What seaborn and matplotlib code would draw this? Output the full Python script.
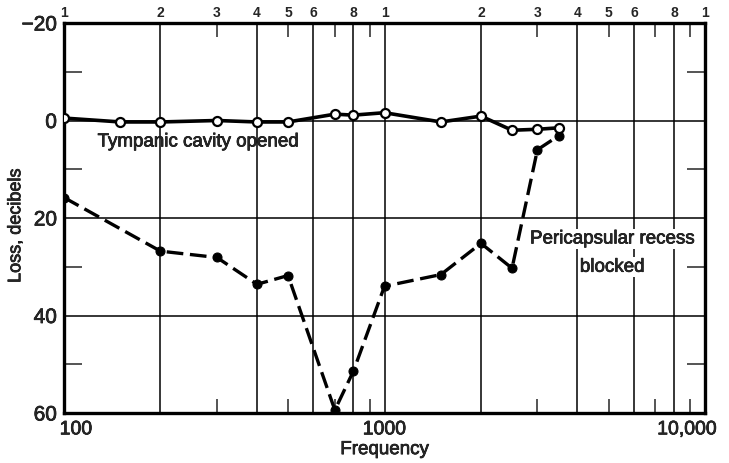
import numpy as np
import pandas as pd
import matplotlib
matplotlib.use("Agg")
import matplotlib.pyplot as plt
import matplotlib.transforms as mtrans
import matplotlib.patheffects as pe
import seaborn as sns
from matplotlib.ticker import FixedLocator, NullFormatter

# tympanic cavity opened (solid, open circles)
freqOpen = [100, 150, 200, 300, 400, 500, 700, 800, 1000, 1500, 2000, 2500, 3000, 3500]
lossOpen = [-0.5, 0.3, 0.3, 0.0, 0.3, 0.3, -1.3, -1.1, -1.6, 0.3, -0.9, 2.0, 1.8, 1.5]
# pericapsular recess blocked (dashed, filled circles)
freqBlock = [100, 200, 300, 400, 500, 700, 800, 1000, 1500, 2000, 2500, 3000, 3500]
lossBlock = [15.8, 26.8, 28.1, 33.6, 31.8, 59.4, 51.4, 34.0, 31.6, 25.2, 30.3, 6.0, 3.1]

gridFreq = [200, 400, 600, 800, 1000, 2000, 4000, 6000, 8000]
shortFreq = [300, 500, 700, 900, 3000, 5000, 7000, 9000]
topFreq = [100, 200, 300, 400, 500, 600, 800, 1000, 2000, 3000, 4000, 5000, 6000, 8000, 10000]
topLabels = ["1", "2", "3", "4", "5", "6", "8", "1", "2", "3", "4", "5", "6", "8", "1"]
botFreq = [100, 1000, 10000]
botLabels = ["100", "1000", "10,000"]
yTicks = [-20, 0, 20, 40, 60]
yLabels = ["\u221220", "0", "20", "40", "60"]
yShort = [-10, 10, 30, 50]
yGrid = [0, 20, 40]

sns.set_style("white")
plt.rcParams['font.family'] = ['Liberation Sans', 'DejaVu Sans']
heavy = [pe.withStroke(linewidth=0.5, foreground="black")]

dfO = pd.DataFrame({"freq": freqOpen, "loss": lossOpen})
dfB = pd.DataFrame({"freq": freqBlock, "loss": lossBlock})

fig = plt.figure(figsize=(7.29, 4.64), dpi=100)
ax = fig.add_axes([64/729, 50/464, 641/729, 390/464])

for f in gridFreq:
    ax.axvline(f, color="black", lw=1.1, zorder=1)
for v in yGrid:
    ax.axhline(v, color="black", lw=1.1, zorder=1)

sns.lineplot(data=dfB, x="freq", y="loss", ax=ax, color="black", lw=2.4,
             linestyle=(0, (5, 2)), marker="o", markersize=6.5,
             markerfacecolor="black", markeredgecolor="black", zorder=3)
sns.lineplot(data=dfO, x="freq", y="loss", ax=ax, color="black", lw=2.6,
             marker="o", markersize=6.5, markerfacecolor="white",
             markeredgecolor="black", markeredgewidth=1.6, zorder=4)
ax.set_xscale("log")
ax.set_xlim(100, 10000)
ax.set_ylim(60, -20)

ax.xaxis.set_major_locator(FixedLocator(botFreq))
ax.set_xticklabels(botLabels)
ax.xaxis.set_minor_locator(FixedLocator(shortFreq))
ax.xaxis.set_minor_formatter(NullFormatter())
ax.tick_params(axis="x", which="major", length=0, labelsize=14, pad=6)
ax.tick_params(axis="x", which="minor", direction="in", length=10, width=1.1,
               top=True, bottom=True)
xl = ax.get_xticklabels()
xl[0].set_transform(xl[0].get_transform() + mtrans.ScaledTranslation(12/100, 0, fig.dpi_scale_trans))
xl[-1].set_transform(xl[-1].get_transform() + mtrans.ScaledTranslation(-18/100, 0, fig.dpi_scale_trans))

ax.yaxis.set_major_locator(FixedLocator(yTicks))
ax.set_yticklabels(yLabels)
ax.yaxis.set_minor_locator(FixedLocator(yShort))
ax.tick_params(axis="y", which="major", length=0, labelsize=15, pad=5)
ax.tick_params(axis="y", which="minor", direction="in", length=13, width=1.1,
               left=True, right=True)

for s in ax.spines.values():
    s.set_linewidth(2.4)
    s.set_color("black")

sec = ax.secondary_xaxis("top")
sec.set_xticks(topFreq)
sec.set_xticklabels(topLabels)
sec.xaxis.set_minor_locator(FixedLocator([]))
sec.tick_params(length=0, labelsize=10, pad=3)
for lab in sec.get_xticklabels():
    lab.set_fontweight("bold")
sec.spines["top"].set_visible(False)

ax.set_xlabel("Frequency", fontsize=13.5, labelpad=2, path_effects=heavy)
ax.set_ylabel("Loss, decibels", fontsize=13, path_effects=heavy)
ax.yaxis.set_label_coords(-0.062, 0.48)
for lab in ax.get_xticklabels() + ax.get_yticklabels():
    lab.set_path_effects(heavy)

ax.text(262, 4.4, "Tympanic cavity opened", fontsize=13.5, ha="center", va="center", zorder=5,
        path_effects=heavy)
ax.text(5130, 24.3, "Pericapsular recess", fontsize=13.5, ha="center", va="center", zorder=5,
        path_effects=heavy, bbox=dict(facecolor="white", edgecolor="none", pad=1))
ax.text(5130, 30.1, "blocked", fontsize=13.5, ha="center", va="center", zorder=5,
        path_effects=heavy, bbox=dict(facecolor="white", edgecolor="none", pad=1))

fig.savefig("out.png", dpi=100)
